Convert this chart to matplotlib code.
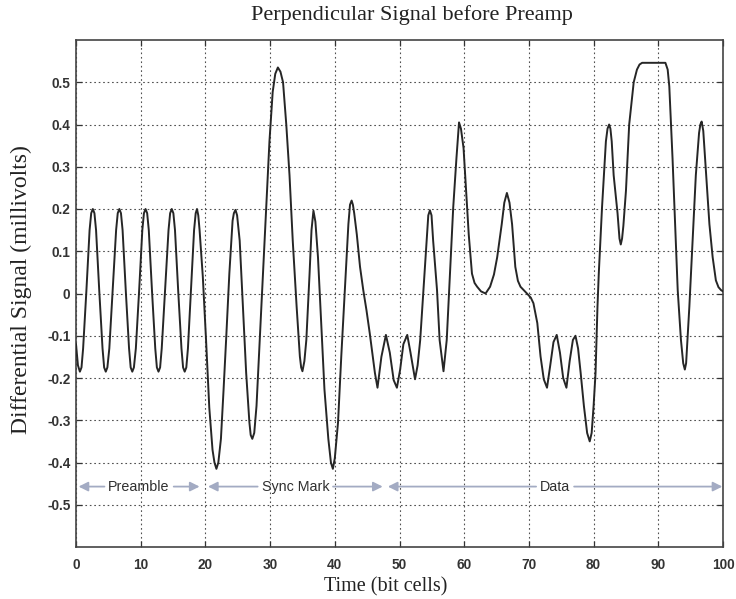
import matplotlib
matplotlib.use("Agg")
import matplotlib.pyplot as plt
import numpy as np

# ---------------- data ----------------
preamble_time = [0.0, 0.3, 0.6, 0.85, 1.1, 1.6, 2.1, 2.35, 2.6, 2.85, 3.1, 3.6, 4.1, 4.35, 4.6,
                 4.85, 5.15, 5.65, 6.2, 6.45, 6.7, 6.95, 7.2, 7.7, 8.2, 8.45, 8.7, 8.95, 9.25,
                 9.75, 10.25, 10.5, 10.75, 11.0, 11.25, 11.75, 12.25, 12.5, 12.75, 13.0, 13.25,
                 13.75, 14.3, 14.55, 14.8, 15.05, 15.3, 15.8, 16.3, 16.55, 16.8, 17.05, 17.3,
                 17.75, 18.25, 18.5, 18.7, 18.9]
preamble_signal = [-0.12, -0.17, -0.185, -0.175, -0.13, 0.005, 0.15, 0.19, 0.20, 0.19, 0.15,
                   0.005, -0.13, -0.175, -0.185, -0.175, -0.13, 0.005, 0.15, 0.19, 0.20, 0.19,
                   0.15, 0.005, -0.13, -0.175, -0.185, -0.175, -0.13, 0.005, 0.15, 0.19, 0.20,
                   0.19, 0.15, 0.005, -0.13, -0.175, -0.185, -0.175, -0.13, 0.005, 0.15, 0.19,
                   0.20, 0.19, 0.15, 0.005, -0.13, -0.175, -0.185, -0.175, -0.13, 0.005, 0.15,
                   0.19, 0.20, 0.185]

sync_time = [19.1, 19.6, 20.1, 20.6, 21.1, 21.4, 21.7, 22.0, 22.4, 22.8, 23.2, 23.7, 24.2, 24.4,
             24.65, 24.9, 25.3, 25.8, 26.3, 26.8, 27.0, 27.25, 27.55, 27.9, 28.4, 28.9, 29.4,
             29.9, 30.4, 30.8, 31.2, 31.6, 32.0, 32.5, 33.0, 33.5, 34.1, 34.6, 34.8, 35.0, 35.3,
             35.6, 36.1, 36.4, 36.7, 37.0, 37.4, 37.9, 38.4, 39.0, 39.4, 39.7, 40.0, 40.5, 41.0,
             41.55, 42.1, 42.35, 42.6, 42.8, 43.0, 43.4, 43.9, 44.4, 44.9, 45.4, 46.2, 46.6,
             47.2, 47.9]
sync_signal = [0.15, 0.04, -0.11, -0.27, -0.37, -0.40, -0.415, -0.40, -0.344, -0.23, -0.11,
               0.047, 0.172, 0.19, 0.198, 0.185, 0.125, -0.031, -0.188, -0.305, -0.335, -0.344,
               -0.33, -0.266, -0.11, 0.047, 0.203, 0.36, 0.477, 0.52, 0.535, 0.525, 0.50, 0.40,
               0.28, 0.125, -0.031, -0.149, -0.175, -0.184, -0.16, -0.11, 0.047, 0.15, 0.196,
               0.17, 0.086, -0.07, -0.227, -0.344, -0.40, -0.415, -0.39, -0.305, -0.149, 0.008,
               0.164, 0.21, 0.22, 0.21, 0.19, 0.14, 0.063, 0.008, -0.04, -0.094, -0.188, -0.223,
               -0.15, -0.098]

data_time = [48.5, 49.1, 49.6, 50.1, 50.6, 51.2, 51.7, 52.4, 52.8, 53.2, 53.7, 54.2, 54.45, 54.7,
             54.95, 55.2, 55.8, 56.2, 56.8, 57.3, 57.8, 58.3, 58.8, 59.2, 59.5, 59.9, 60.3, 60.7,
             61.2, 61.6, 62.0, 62.6, 63.3, 64.0, 64.6, 65.1, 65.8, 66.2, 66.6, 67.0, 67.4, 67.9,
             68.3, 68.7, 69.7, 70.3, 70.7, 71.3, 71.8, 72.3, 72.8, 73.3, 73.8, 74.3, 74.8, 75.3,
             75.8, 76.3, 76.8, 77.2, 77.6, 78.0, 78.5, 79.0, 79.4, 79.7, 80.0, 80.3, 80.6, 80.8,
             81.3, 81.9, 82.15, 82.4, 82.6, 82.8, 83.1, 83.7, 84.0, 84.2, 84.4, 84.6, 85.0, 85.5,
             86.2, 86.7, 87.1, 87.5, 91.1, 91.45, 91.7, 92.2, 92.7, 93.0, 93.5, 93.85, 94.1, 94.3,
             94.8, 95.3, 95.8, 96.3, 96.5, 96.7, 96.95, 97.4, 97.9, 98.4, 98.9, 99.3, 99.7, 100.0]
data_signal = [-0.14, -0.205, -0.223, -0.18, -0.12, -0.098, -0.14, -0.203, -0.17, -0.11, 0.008,
               0.125, 0.185, 0.197, 0.185, 0.125, 0.008, -0.11, -0.184, -0.11, 0.047, 0.203,
               0.32, 0.405, 0.39, 0.344, 0.24, 0.14, 0.047, 0.025, 0.016, 0.005, 0.0, 0.016,
               0.045, 0.086, 0.164, 0.215, 0.238, 0.215, 0.164, 0.063, 0.03, 0.016, 0.0, -0.01,
               -0.023, -0.07, -0.149, -0.203, -0.223, -0.17, -0.115, -0.098, -0.14, -0.2, -0.223,
               -0.16, -0.11, -0.10, -0.13, -0.188, -0.266, -0.33, -0.35, -0.33, -0.266, -0.188,
               -0.031, 0.047, 0.203, 0.36, 0.39, 0.40, 0.39, 0.36, 0.28, 0.19, 0.13, 0.116, 0.13,
               0.16, 0.243, 0.40, 0.50, 0.53, 0.542, 0.546, 0.546, 0.53, 0.49, 0.32, 0.125, 0.008,
               -0.11, -0.165, -0.18, -0.165, -0.031, 0.125, 0.28, 0.38, 0.40, 0.407, 0.385, 0.28,
               0.164, 0.086, 0.031, 0.015, 0.008, 0.005]

section_names = ["Preamble", "Sync Mark", "Data"]
section_start = [0.4, 20.4, 48.2]
section_end = [19.1, 47.4, 99.9]

x_ticks = [0, 10, 20, 30, 40, 50, 60, 70, 80, 90, 100]
y_ticks = [-0.5, -0.4, -0.3, -0.2, -0.1, 0.0, 0.1, 0.2, 0.3, 0.4, 0.5]
y_tick_labels = ["-0.5", "-0.4", "-0.3", "-0.2", "-0.1", "0", "0.1", "0.2", "0.3", "0.4", "0.5"]

title = "Perpendicular Signal before Preamp"
x_label = "Time (bit cells)"
y_label = "Differential Signal (millivolts)"

# ---------------- figure ----------------
plt.rcParams["axes.unicode_minus"] = False
W, H = 736, 599
fig = plt.figure(figsize=(W / 100, H / 100), dpi=100)
ax = fig.add_axes([76 / W, 1 - 547 / H, (723 - 76) / W, (547 - 40) / H])

t = np.concatenate([preamble_time, sync_time, data_time])
v = np.concatenate([preamble_signal, sync_signal, data_signal])
ax.plot(t, v, color="#262626", lw=1.4, solid_joinstyle="round", zorder=3)

ax.set_xlim(0, 100)
ax.set_ylim(-0.6, 0.6)
ax.set_xticks(x_ticks)
ax.set_yticks(y_ticks)
ax.set_yticklabels(y_tick_labels)
for lab in ax.get_xticklabels() + ax.get_yticklabels():
    lab.set_fontfamily("Liberation Sans")
    lab.set_fontweight("bold")
    lab.set_fontsize(9.8)
    lab.set_color("#222222")
ax.tick_params(direction="in", length=4, width=0.9, top=True, right=True, colors="#333333")
ax.tick_params(axis="x", pad=8)
ax.tick_params(axis="y", pad=4)
ax.grid(True, linestyle=(0, (1.5, 2.5)), color="#505050", linewidth=0.8)
for s in ax.spines.values():
    s.set_linewidth(1.2)
    s.set_color("#444444")

serif = ["Liberation Serif", "DejaVu Serif"]
fig.text(412 / W, 1 - 15 / H, title, ha="center", va="center", family=serif, size=16, color="#222222")
fig.text(386 / W, 1 - 587 / H, x_label, ha="center", va="center", family=serif, size=14.5, color="#222222")
fig.text(21 / W, 1 - 290 / H, y_label, ha="center", va="center", rotation=90, family=serif,
         size=17, color="#222222")

# section annotations
arrow_y = -0.457
arrow_color = "#a3abc3"
fig.canvas.draw()
inv = ax.transData.inverted()
for name, s, e in zip(section_names, section_start, section_end):
    mid = (s + e) / 2
    txt = ax.text(mid, arrow_y, name, ha="center", va="center", family="Liberation Sans",
                  size=10.3, color="#303030", zorder=4)
    bb = txt.get_window_extent(renderer=fig.canvas.get_renderer())
    x0 = inv.transform((bb.x0, bb.y0))[0]
    x1 = inv.transform((bb.x1, bb.y0))[0]
    for tip, tail in ((s, x0 - 0.6), (e, x1 + 0.6)):
        ax.annotate("", xy=(tip, arrow_y), xytext=(tail, arrow_y),
                    arrowprops=dict(arrowstyle="-|>", color=arrow_color, lw=1.3,
                                    mutation_scale=14, shrinkA=0, shrinkB=0))

fig.savefig("out.png", dpi=100, facecolor="white")
